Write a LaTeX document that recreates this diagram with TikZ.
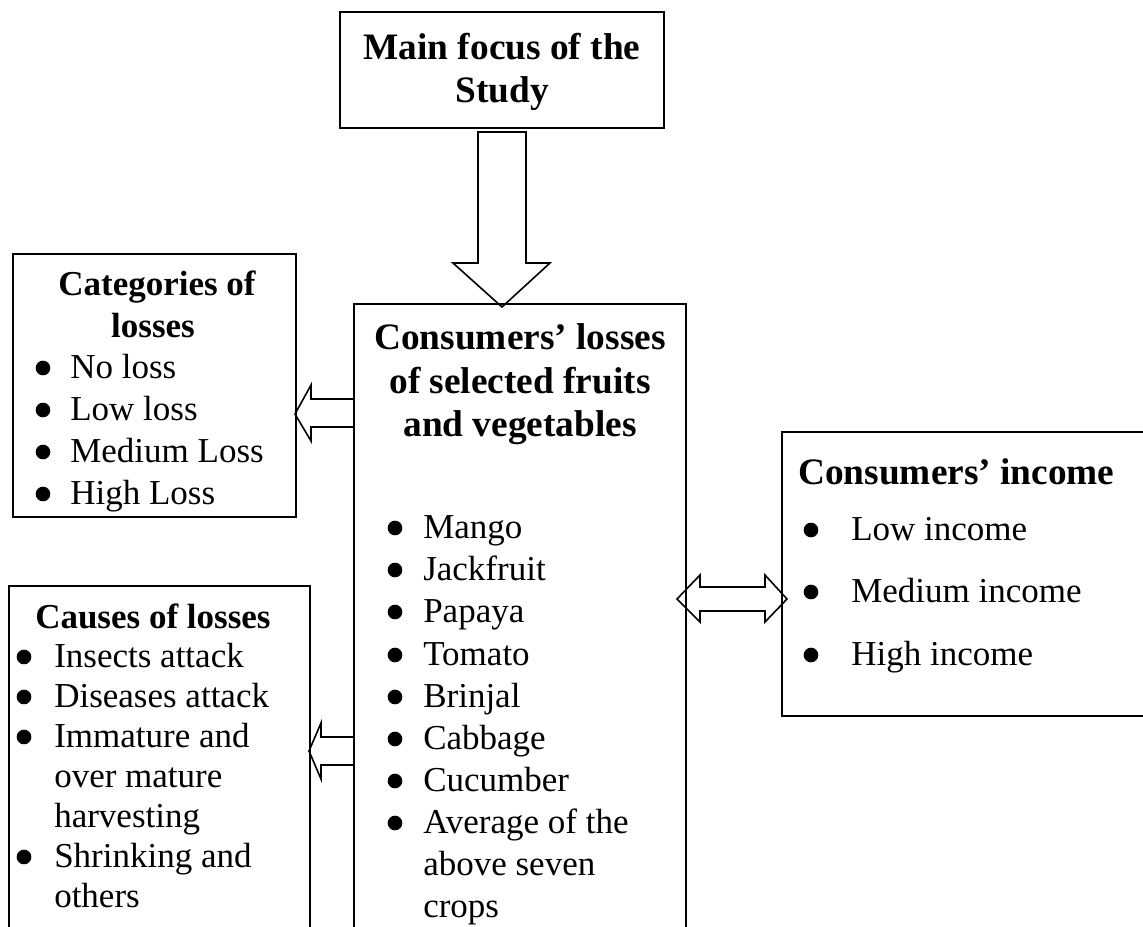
\documentclass[tikz,border=0pt]{standalone}
\usepackage{fontspec}
\setmainfont{Liberation Serif}
\usetikzlibrary{fit}
\begin{document}
\begin{tikzpicture}[x=0.75pt,y=-0.75pt,
  box/.style={draw, line width=1.2pt, inner sep=0pt},
  txt/.style={inner sep=0pt, anchor=base west, font=\fontsize{26.25}{31.5}\selectfont},
  hd/.style={inner sep=0pt, anchor=base west, font=\fontsize{26.25}{31.5}\selectfont\bfseries},
  bighd/.style={inner sep=0pt, anchor=base west, font=\fontsize{28}{33.6}\selectfont\bfseries},
  bul/.style={circle, fill=black, inner sep=0pt, minimum size=11pt},
  barrow/.style={draw, line width=1.2pt, line join=miter}]
\useasboundingbox (0,0) rectangle (1143,926);
\clip (0,0) rectangle (1143,926);

% boxes
\coordinate (mA) at (340,12); \coordinate (mB) at (664,128);
\node[box, fit=(mA)(mB)] (main) {};
\coordinate (cA) at (354,304); \coordinate (cB) at (686,950);
\node[box, fit=(cA)(cB)] (center) {};
\coordinate (kA) at (13,254); \coordinate (kB) at (296,517);
\node[box, fit=(kA)(kB)] (cat) {};
\coordinate (sA) at (9,586); \coordinate (sB) at (310,950);
\node[box, fit=(sA)(sB)] (cause) {};
\coordinate (iA) at (782,432); \coordinate (iB) at (1160,716);
\node[box, fit=(iA)(iB)] (inc) {};

% main focus
\node[bighd, anchor=base] (m1) at (502,59) {Main focus of the};
\node[bighd, anchor=base] (m2) at (502,102) {Study};

% block arrows
\draw[barrow] (478,132) -- (526,132) -- (526,263) -- (550,263) -- (502,307) -- (453,263) -- (478,263) -- cycle;
\draw[barrow] (354,399) -- (311,399) -- (311,385) -- (295,414) -- (311,441) -- (311,427) -- (354,427);
\draw[barrow] (354,737) -- (321,737) -- (321,723) -- (309,751) -- (321,779) -- (321,765) -- (354,765);
\draw[barrow] (700,587) -- (765,587) -- (765,575) -- (787,599) -- (765,622) -- (765,611) -- (700,611) -- (700,622) -- (677,599) -- (700,575) -- cycle;

% categories
\node[hd, anchor=base] (k0a) at (157,295) {Categories of};
\node[hd, anchor=base] (k0b) at (153,337) {losses};
\node[bul] (kb1) at (43,368) {}; \node[txt] (k1) at (70,378) {No loss};
\node[bul] (kb2) at (43,410) {}; \node[txt] (k2) at (70,420) {Low loss};
\node[bul] (kb3) at (43,452) {}; \node[txt] (k3) at (70,462) {Medium Loss};
\node[bul] (kb4) at (43,494) {}; \node[txt] (k4) at (70,504) {High Loss};

% causes
\node[hd] (s0) at (35,628) {Causes of losses};
\node[bul] (sb1) at (24,657) {}; \node[txt] (s1) at (54,667) {Insects attack};
\node[bul] (sb2) at (24,697) {}; \node[txt] (s2) at (54,707) {Diseases attack};
\node[bul] (sb3) at (24,737) {}; \node[txt] (s3) at (54,747) {Immature and};
\node[txt] (s4) at (54,787) {over mature};
\node[txt] (s5) at (54,827) {harvesting};
\node[bul] (sb6) at (24,857) {}; \node[txt] (s6) at (54,867) {Shrinking and};
\node[txt] (s7) at (54,907) {others};

% center
\node[bighd, anchor=base] (c0a) at (520,349) {Consumers’ losses};
\node[bighd, anchor=base] (c0b) at (520,393) {of selected fruits};
\node[bighd, anchor=base] (c0c) at (520,436) {and vegetables};
\node[bul] (cb1) at (395,528) {}; \node[txt] (c1) at (423,538) {Mango};
\node[bul] (cb2) at (395,570) {}; \node[txt] (c2) at (423,580) {Jackfruit};
\node[bul] (cb3) at (395,612) {}; \node[txt] (c3) at (423,622) {Papaya};
\node[bul] (cb4) at (395,655) {}; \node[txt] (c4) at (423,665) {Tomato};
\node[bul] (cb5) at (395,697) {}; \node[txt] (c5) at (423,707) {Brinjal};
\node[bul] (cb6) at (395,739) {}; \node[txt] (c6) at (423,749) {Cabbage};
\node[bul] (cb7) at (395,781) {}; \node[txt] (c7) at (423,791) {Cucumber};
\node[bul] (cb8) at (395,823) {}; \node[txt] (c8) at (423,833) {Average of the};
\node[txt] (c9) at (423,875) {above seven};
\node[txt] (c10) at (423,917) {crops};

% income
\node[bighd] (i0) at (798,484) {Consumers’ income};
\node[bul] (ib1) at (811,530) {}; \node[txt] (i1) at (851,540) {Low income};
\node[bul] (ib2) at (811,592) {}; \node[txt] (i2) at (851,602) {Medium income};
\node[bul] (ib3) at (811,655) {}; \node[txt] (i3) at (851,665) {High income};
\end{tikzpicture}
\end{document}
